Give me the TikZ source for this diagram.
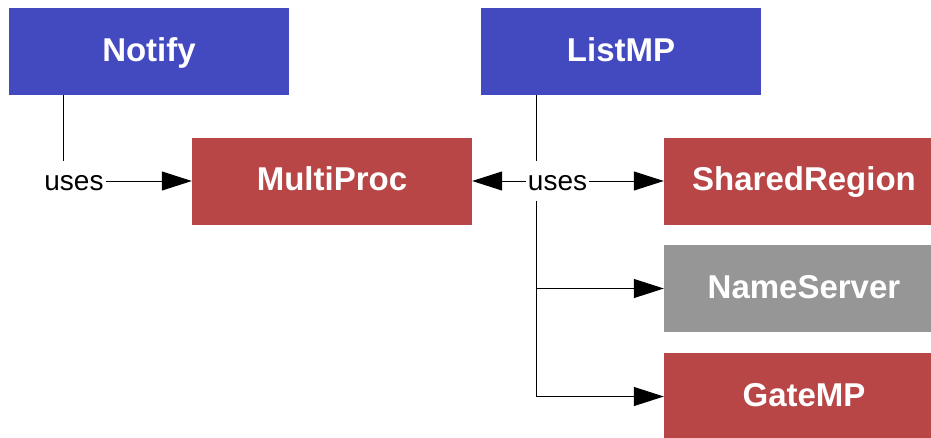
\documentclass[tikz,border=0pt]{standalone}
\usepackage{fontspec}
\setmainfont{Liberation Sans}
\usepackage{xcolor}
\usepackage{tikz}
\usetikzlibrary{arrows.meta}
\definecolor{modblue}{RGB}{67,73,190}
\definecolor{modred}{RGB}{185,70,70}
\definecolor{modgrey}{RGB}{150,150,150}
\tikzset{
  module/.style={shape=rectangle, minimum width=280pt, minimum height=87pt, inner sep=0pt, text height=24pt, text depth=4.6pt, text=white, font=\fontsize{33}{40}\selectfont\bfseries},
  uses/.style={shape=rectangle, inner sep=2pt, minimum height=40pt, text height=18.5pt, text depth=0pt, font=\fontsize{28}{34}\selectfont},
  link/.style={line width=1pt, -{Triangle[length=30pt, width=19pt]}}
}

\begin{document}
\begin{tikzpicture}[x=1pt, y=-1pt]
\useasboundingbox (0, 0) rectangle (931, 437);
\node at (149, 51.5) [module, fill=modblue] (notify) {Notify};
\node at (621, 51.5) [module, fill=modblue] (listmp) {ListMP};
\node at (332, 181) [module, fill=modred] (multiproc) {MultiProc};
\node at (804, 181) [module, fill=modred] (sharedregion) {SharedRegion};
\node at (804, 288.5) [module, fill=modgrey] (nameserver) {NameServer};
\node at (804, 396.5) [module, fill=modred] (gatemp) {GateMP};
\node at (74, 181) [uses] (uses1) {uses};
\node at (557.5, 181) [uses] (uses2) {uses};
\coordinate (drop1) at (63, 0);
\coordinate (drop2) at (536, 0);
\draw [line width=1pt] (notify.south -| drop1) to (uses1.north -| drop1);
\draw [link] (uses1) to (multiproc);
\draw [line width=1pt] (listmp.south -| drop2) to (uses2.north -| drop2);
\draw [link] (uses2) to (multiproc);
\draw [link] (uses2) to (sharedregion);
\draw [link] (uses2.south -| drop2) |- (gatemp.west);
\draw [link] (drop2 |- nameserver.west) to (nameserver.west);
\end{tikzpicture}
\end{document}
